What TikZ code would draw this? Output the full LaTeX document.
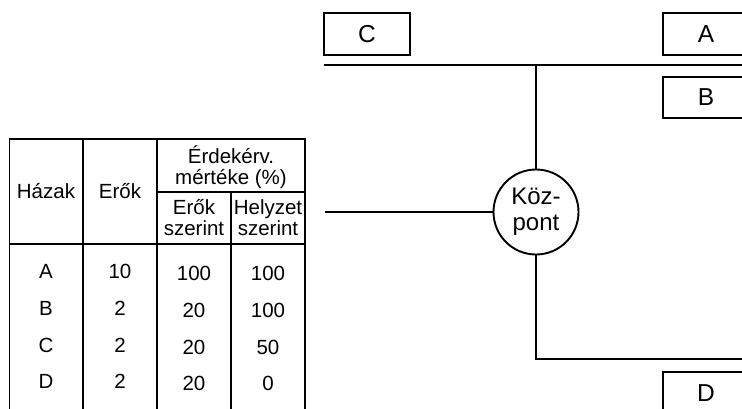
\documentclass[tikz,border=0pt]{standalone}
\usepackage{fontspec}
\setmainfont{Liberation Sans}
\begin{document}
\begin{tikzpicture}[x=1pt,y=-1pt,
  ln/.style={line width=1.9pt},
  tab/.style={font=\fontsize{20.5}{21}\selectfont, inner sep=0pt, align=center},
  box/.style={draw, line width=1.9pt, minimum width=86pt, inner sep=0pt, font=\fontsize{24.5}{26}\selectfont},
  hub/.style={draw, circle, line width=1.9pt, minimum size=85pt, inner sep=0pt, align=center, font=\fontsize{24}{26}\selectfont}]
\useasboundingbox (0,0) rectangle (742,408);
\clip (0,0) rectangle (742,408);
% table grid
\draw[ln] (9.5,420) -- (9.5,139) -- (305,139) -- (305,420);
\draw[ln] (83,139) -- (83,420);
\draw[ln] (157,139) -- (157,420);
\draw[ln] (231,192) -- (231,420);
\draw[ln] (157,192) -- (305,192);
\draw[ln] (9.5,244) -- (305,244);
% header text
\node[tab, anchor=base] (h1) at (46,198) {Házak};
\node[tab, anchor=base] (h2) at (120,198) {Erők};
\node[tab] (h3) at (231,167) {Érdekérv.\\mértéke (\%)};
\node[tab] (h4) at (194,218) {Erők\\szerint};
\node[tab] (h5) at (268,218) {Helyzet\\szerint};
% rows
\foreach \r/\a/\b/\c/\d/\y in {A/A/10/100/100/278, B/B/2/20/100/315, C/C/2/20/50/352, D/D/2/20/0/388}{
  \node[tab, anchor=base] (r\r1) at (46,\y) {\a};
  \node[tab, anchor=base] (r\r2) at (120,\y) {\b};
  \node[tab, anchor=base] (r\r3) at (194,\y+2) {\c};
  \node[tab, anchor=base] (r\r4) at (268,\y+2) {\d};
}
% right diagram
\node[box, minimum height=42pt] (C) at (367,34) {C};
\node[box, minimum height=42pt] (A) at (706,34) {A};
\node[box, minimum height=41pt] (B) at (706,97.5) {B};
\node[box, minimum height=42pt] (D) at (706,393) {D};
\node[hub] (K) at (536,212) {Köz-\\pont};
\coordinate (L1) at (324,65);
\coordinate (R1) at (745,65);
\coordinate (T) at (536,65);
\coordinate (W) at (325,212);
\coordinate (E) at (745,359);
\draw[ln] (L1) -- (R1);
\draw[ln] (T) -- (K.north);
\draw[ln] (W) -- (K.west);
\draw[ln] (K.south) |- (E);
\end{tikzpicture}
\end{document}
